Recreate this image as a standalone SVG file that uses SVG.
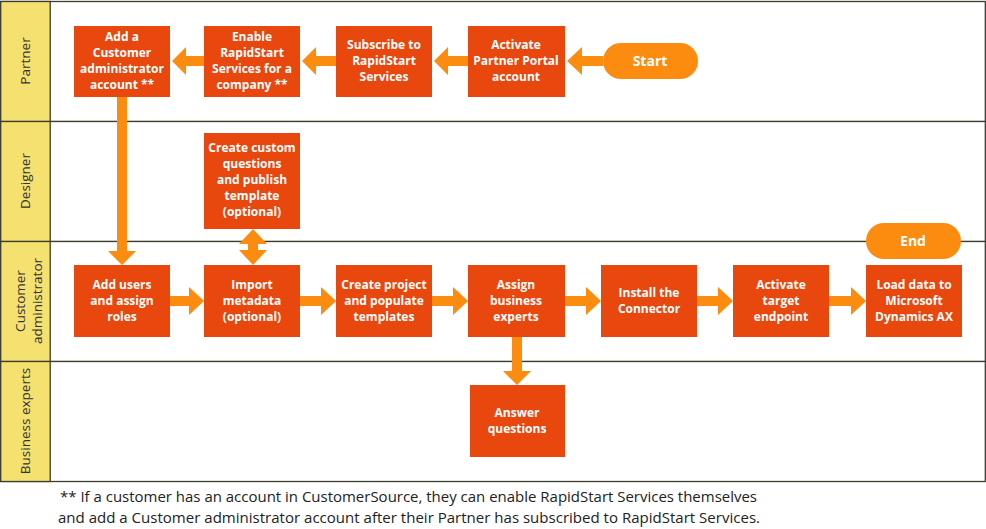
<svg xmlns="http://www.w3.org/2000/svg" width="986" height="529" viewBox="0 0 986 529">
<style>
.lane{fill:#ffffff;stroke:#3d3d2e;stroke-width:1.3}
.lab{fill:#f4e170;stroke:#3d3d2e;stroke-width:1.3}
.lt{font-family:"Open Sans","Noto Sans",sans-serif;font-size:13.5px;fill:#333;text-anchor:middle}
.box{fill:#e8470e}
.pill{fill:#fb8c0f}
.bt{font-family:"Open Sans","Noto Sans",sans-serif;font-size:12px;font-weight:bold;fill:#ffffff;text-anchor:middle}
.pt{font-family:"Open Sans","Noto Sans",sans-serif;font-size:14px;font-weight:bold;fill:#ffffff;text-anchor:middle}
.arr{fill:#fb8c0f}
.fn{font-family:"Open Sans","Noto Sans",sans-serif;font-size:15px;fill:#222}
</style>
<g id="lanes">
<rect class="lane" x="0.7" y="1.5" width="984.6" height="120"/>
<rect class="lane" x="0.7" y="121.5" width="984.6" height="120"/>
<rect class="lane" x="0.7" y="241.5" width="984.6" height="120"/>
<rect class="lane" x="0.7" y="361.5" width="984.6" height="120"/>
<rect class="lab" x="0.7" y="1.5" width="49.5" height="120"/>
<rect class="lab" x="0.7" y="121.5" width="49.5" height="120"/>
<rect class="lab" x="0.7" y="241.5" width="49.5" height="120"/>
<rect class="lab" x="0.7" y="361.5" width="49.5" height="120"/>
<text class="lt" transform="translate(30,61) rotate(-90)">Partner</text>
<text class="lt" transform="translate(30,181) rotate(-90)">Designer</text>
<text class="lt" transform="translate(25,301) rotate(-90)">Customer</text>
<text class="lt" transform="translate(42,301) rotate(-90)">administrator</text>
<text class="lt" transform="translate(30,421) rotate(-90)">Business experts</text>
</g>
<g id="connectors">
<polygon class="arr" points="172,61 186,47 186,56 204,56 204,66 186,66 186,75"/>
<polygon class="arr" points="302,61 316,47 316,56 336,56 336,66 316,66 316,75"/>
<polygon class="arr" points="434,61 448,47 448,56 468,56 468,66 448,66 448,75"/>
<polygon class="arr" points="567,61 582,47 582,56 603,56 603,66 582,66 582,75"/>
<polygon class="arr" points="117,97 127,97 127,251 136,251 122,265 108,251 117,251"/>
<polygon class="arr" points="253,229 267,244 258,244 258,250 267,250 253,265 239,250 248,250 248,244 239,244"/>
<polygon class="arr" points="512,337 522,337 522,371 531,371 517,385 503,371 512,371"/>
<polygon class="arr" points="170,296 189,296 189,287 204,301 189,315 189,306 170,306"/>
<polygon class="arr" points="300,296 321,296 321,287 336,301 321,315 321,306 300,306"/>
<polygon class="arr" points="432,296 453,296 453,287 468,301 453,315 453,306 432,306"/>
<polygon class="arr" points="565,296 586,296 586,287 601,301 586,315 586,306 565,306"/>
<polygon class="arr" points="697,296 718,296 718,287 733,301 718,315 718,306 697,306"/>
<polygon class="arr" points="829,296 851,296 851,287 866,301 851,315 851,306 829,306"/>
</g>
<g id="n-add-admin">
<rect class="box" x="74" y="26" width="96" height="71"/>
<text class="bt" x="122" y="41">Add a</text>
<text class="bt" x="122" y="57">Customer</text>
<text class="bt" x="122" y="73">administrator</text>
<text class="bt" x="122" y="89">account **</text>
</g>
<g id="n-enable">
<rect class="box" x="204" y="26" width="96" height="71"/>
<text class="bt" x="252" y="41">Enable</text>
<text class="bt" x="252" y="57">RapidStart</text>
<text class="bt" x="252" y="73">Services for a</text>
<text class="bt" x="252" y="89">company **</text>
</g>
<g id="n-subscribe">
<rect class="box" x="336" y="26" width="96" height="71"/>
<text class="bt" x="384" y="49">Subscribe to</text>
<text class="bt" x="384" y="65">RapidStart</text>
<text class="bt" x="384" y="81">Services</text>
</g>
<g id="n-activate-portal">
<rect class="box" x="468" y="26" width="97" height="71"/>
<text class="bt" x="516" y="49">Activate</text>
<text class="bt" x="516" y="65">Partner Portal</text>
<text class="bt" x="516" y="81">account</text>
</g>
<g id="n-start">
<rect class="pill" x="603" y="43" width="95" height="36" rx="18"/>
<text class="pt" x="650" y="66">Start</text>
</g>
<g id="n-custom-questions">
<rect class="box" x="204" y="133" width="96" height="96"/>
<text class="bt" x="252" y="152">Create custom</text>
<text class="bt" x="252" y="168">questions</text>
<text class="bt" x="252" y="184">and publish</text>
<text class="bt" x="252" y="200">template</text>
<text class="bt" x="252" y="216">(optional)</text>
</g>
<g id="n-add-users">
<rect class="box" x="74" y="265" width="96" height="72"/>
<text class="bt" x="122" y="289">Add users</text>
<text class="bt" x="122" y="305">and assign</text>
<text class="bt" x="122" y="321">roles</text>
</g>
<g id="n-import">
<rect class="box" x="204" y="265" width="96" height="72"/>
<text class="bt" x="252" y="289">Import</text>
<text class="bt" x="252" y="305">metadata</text>
<text class="bt" x="252" y="321">(optional)</text>
</g>
<g id="n-create-project">
<rect class="box" x="336" y="265" width="96" height="72"/>
<text class="bt" x="384" y="289">Create project</text>
<text class="bt" x="384" y="305">and populate</text>
<text class="bt" x="384" y="321">templates</text>
</g>
<g id="n-assign">
<rect class="box" x="468" y="265" width="97" height="72"/>
<text class="bt" x="516" y="289">Assign</text>
<text class="bt" x="516" y="305">business</text>
<text class="bt" x="516" y="321">experts</text>
</g>
<g id="n-install">
<rect class="box" x="601" y="265" width="96" height="72"/>
<text class="bt" x="649" y="297">Install the</text>
<text class="bt" x="649" y="313">Connector</text>
</g>
<g id="n-activate-target">
<rect class="box" x="733" y="265" width="96" height="72"/>
<text class="bt" x="781" y="289">Activate</text>
<text class="bt" x="781" y="305">target</text>
<text class="bt" x="781" y="321">endpoint</text>
</g>
<g id="n-load">
<rect class="box" x="866" y="265" width="96" height="72"/>
<text class="bt" x="914" y="289">Load data to</text>
<text class="bt" x="914" y="305">Microsoft</text>
<text class="bt" x="914" y="321">Dynamics AX</text>
</g>
<g id="n-end">
<rect class="pill" x="866" y="223" width="95" height="36" rx="18"/>
<text class="pt" x="913" y="246">End</text>
</g>
<g id="n-answer">
<rect class="box" x="470" y="385" width="95" height="72"/>
<text class="bt" x="517" y="417">Answer</text>
<text class="bt" x="517" y="433">questions</text>
</g>
<g id="footnote">
<text class="fn" x="60" y="502" textLength="697" lengthAdjust="spacingAndGlyphs">** If a customer has an account in CustomerSource, they can enable RapidStart Services themselves</text>
<text class="fn" x="58" y="523" textLength="702" lengthAdjust="spacingAndGlyphs">and add a Customer administrator account after their Partner has subscribed to RapidStart Services.</text>
</g>
</svg>
